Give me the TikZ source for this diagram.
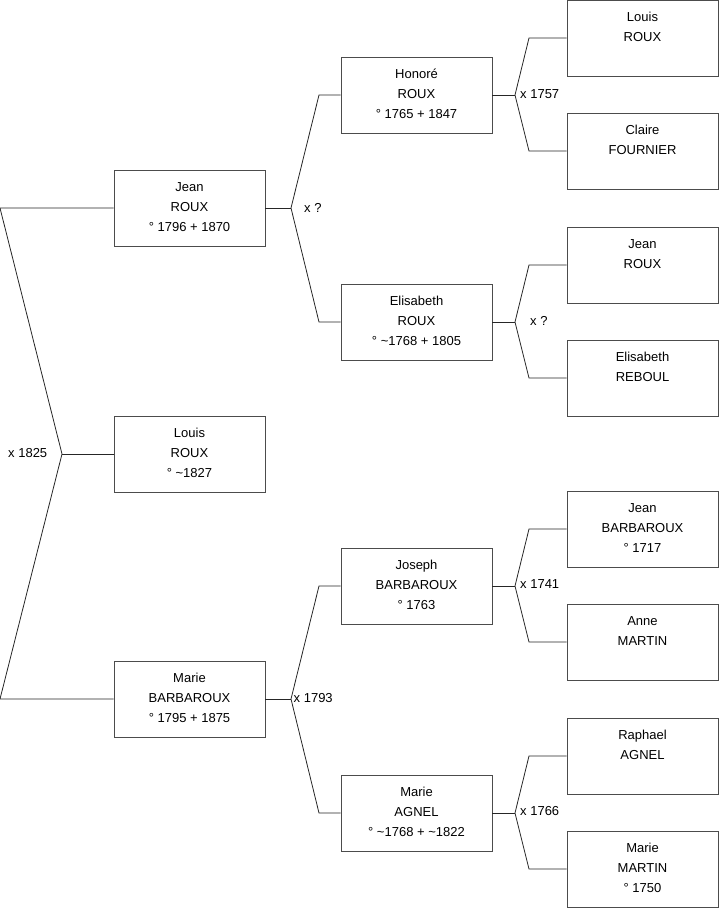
\documentclass[tikz,border=0pt]{standalone}
\usepackage{fontspec}
\setmainfont{Liberation Sans}
\begin{document}
\begin{tikzpicture}[x=1pt,y=-1pt,
  person/.style={draw=black!70, line width=0.9pt, minimum width=151pt, minimum height=76pt, inner sep=0pt},
  ptext/.style={anchor=north, align=center, inner sep=0pt, font=\fontsize{13}{20}\selectfont},
  mlabel/.style={anchor=base west, inner sep=0pt, font=\fontsize{13}{20}\selectfont},
  conn/.style={draw=black!85, line width=0.8pt}]
\useasboundingbox (0,0) rectangle (719,908);
\newcommand{\firstline}{\rule{0pt}{22pt}}
% boxes
\foreach \n/\x/\y/\t in {
  jean/189.5/208/{Jean\\ROUX\\° 1796 + 1870},
  louis/189.5/454/{Louis\\ROUX\\° \textasciitilde1827},
  marieb/189.5/699/{Marie\\BARBAROUX\\° 1795 + 1875},
  honore/416.5/95/{Honoré\\ROUX\\° 1765 + 1847},
  elisr/416.5/322/{Elisabeth\\ROUX\\° \textasciitilde1768 + 1805},
  joseph/416.5/586/{Joseph\\BARBAROUX\\° 1763},
  mariea/416.5/813/{Marie\\AGNEL\\° \textasciitilde1768 + \textasciitilde1822},
  louisr/642.5/38/{Louis\\ROUX},
  claire/642.5/151/{Claire\\FOURNIER},
  jeanr/642.5/265/{Jean\\ROUX},
  elisreb/642.5/378/{Elisabeth\\REBOUL},
  jeanb/642.5/529/{Jean\\BARBAROUX\\° 1717},
  anne/642.5/642/{Anne\\MARTIN},
  raphael/642.5/756/{Raphael\\AGNEL},
  mariem/642.5/869/{Marie\\MARTIN\\° 1750}}{
  \node[person] (\n) at (\x,\y) {};
  \node[ptext] (\n T) at (\n.north) {\firstline\t};
}
% free ends and junctions
\coordinate (l1a) at (0,208);
\coordinate (l1b) at (0,699);
\coordinate (l1c) at (62,454);
\coordinate (jeanx) at (291,208);
\coordinate (jeanu) at (319,95);
\coordinate (jeand) at (319,322);
\coordinate (mbx) at (291,699);
\coordinate (mbu) at (319,586);
\coordinate (mbd) at (319,813);
\coordinate (hx) at (515,95);
\coordinate (hu) at (529,38);
\coordinate (hd) at (529,151);
\coordinate (ex) at (515,322);
\coordinate (eu) at (529,265);
\coordinate (ed) at (529,378);
\coordinate (jx) at (515,586);
\coordinate (ju) at (529,529);
\coordinate (jd) at (529,642);
\coordinate (ax) at (515,813);
\coordinate (au) at (529,756);
\coordinate (ad) at (529,869);
% connectors
\draw[conn] (jean.west) -- (l1a) -- (l1c) -- (l1b) -- (marieb.west);
\draw[conn] (l1c) -- (louis.west);
\draw[conn] (jean.east) -- (jeanx);
\draw[conn] (honore.west) -- (jeanu) -- (jeanx) -- (jeand) -- (elisr.west);
\draw[conn] (marieb.east) -- (mbx);
\draw[conn] (joseph.west) -- (mbu) -- (mbx) -- (mbd) -- (mariea.west);
\draw[conn] (honore.east) -- (hx);
\draw[conn] (louisr.west) -- (hu) -- (hx) -- (hd) -- (claire.west);
\draw[conn] (elisr.east) -- (ex);
\draw[conn] (jeanr.west) -- (eu) -- (ex) -- (ed) -- (elisreb.west);
\draw[conn] (joseph.east) -- (jx);
\draw[conn] (jeanb.west) -- (ju) -- (jx) -- (jd) -- (anne.west);
\draw[conn] (mariea.east) -- (ax);
\draw[conn] (raphael.west) -- (au) -- (ax) -- (ad) -- (mariem.west);
% marriage labels
\node[mlabel] (m1) at (8,457.5) {x 1825};
\node[mlabel] (m2) at (304,212) {x ?};
\node[mlabel] (m3) at (293.5,702.5) {x 1793};
\node[mlabel] (m4) at (520,98) {x 1757};
\node[mlabel] (m5) at (530,325) {x ?};
\node[mlabel] (m6) at (520,588.5) {x 1741};
\node[mlabel] (m7) at (520,815.5) {x 1766};
\end{tikzpicture}
\end{document}
